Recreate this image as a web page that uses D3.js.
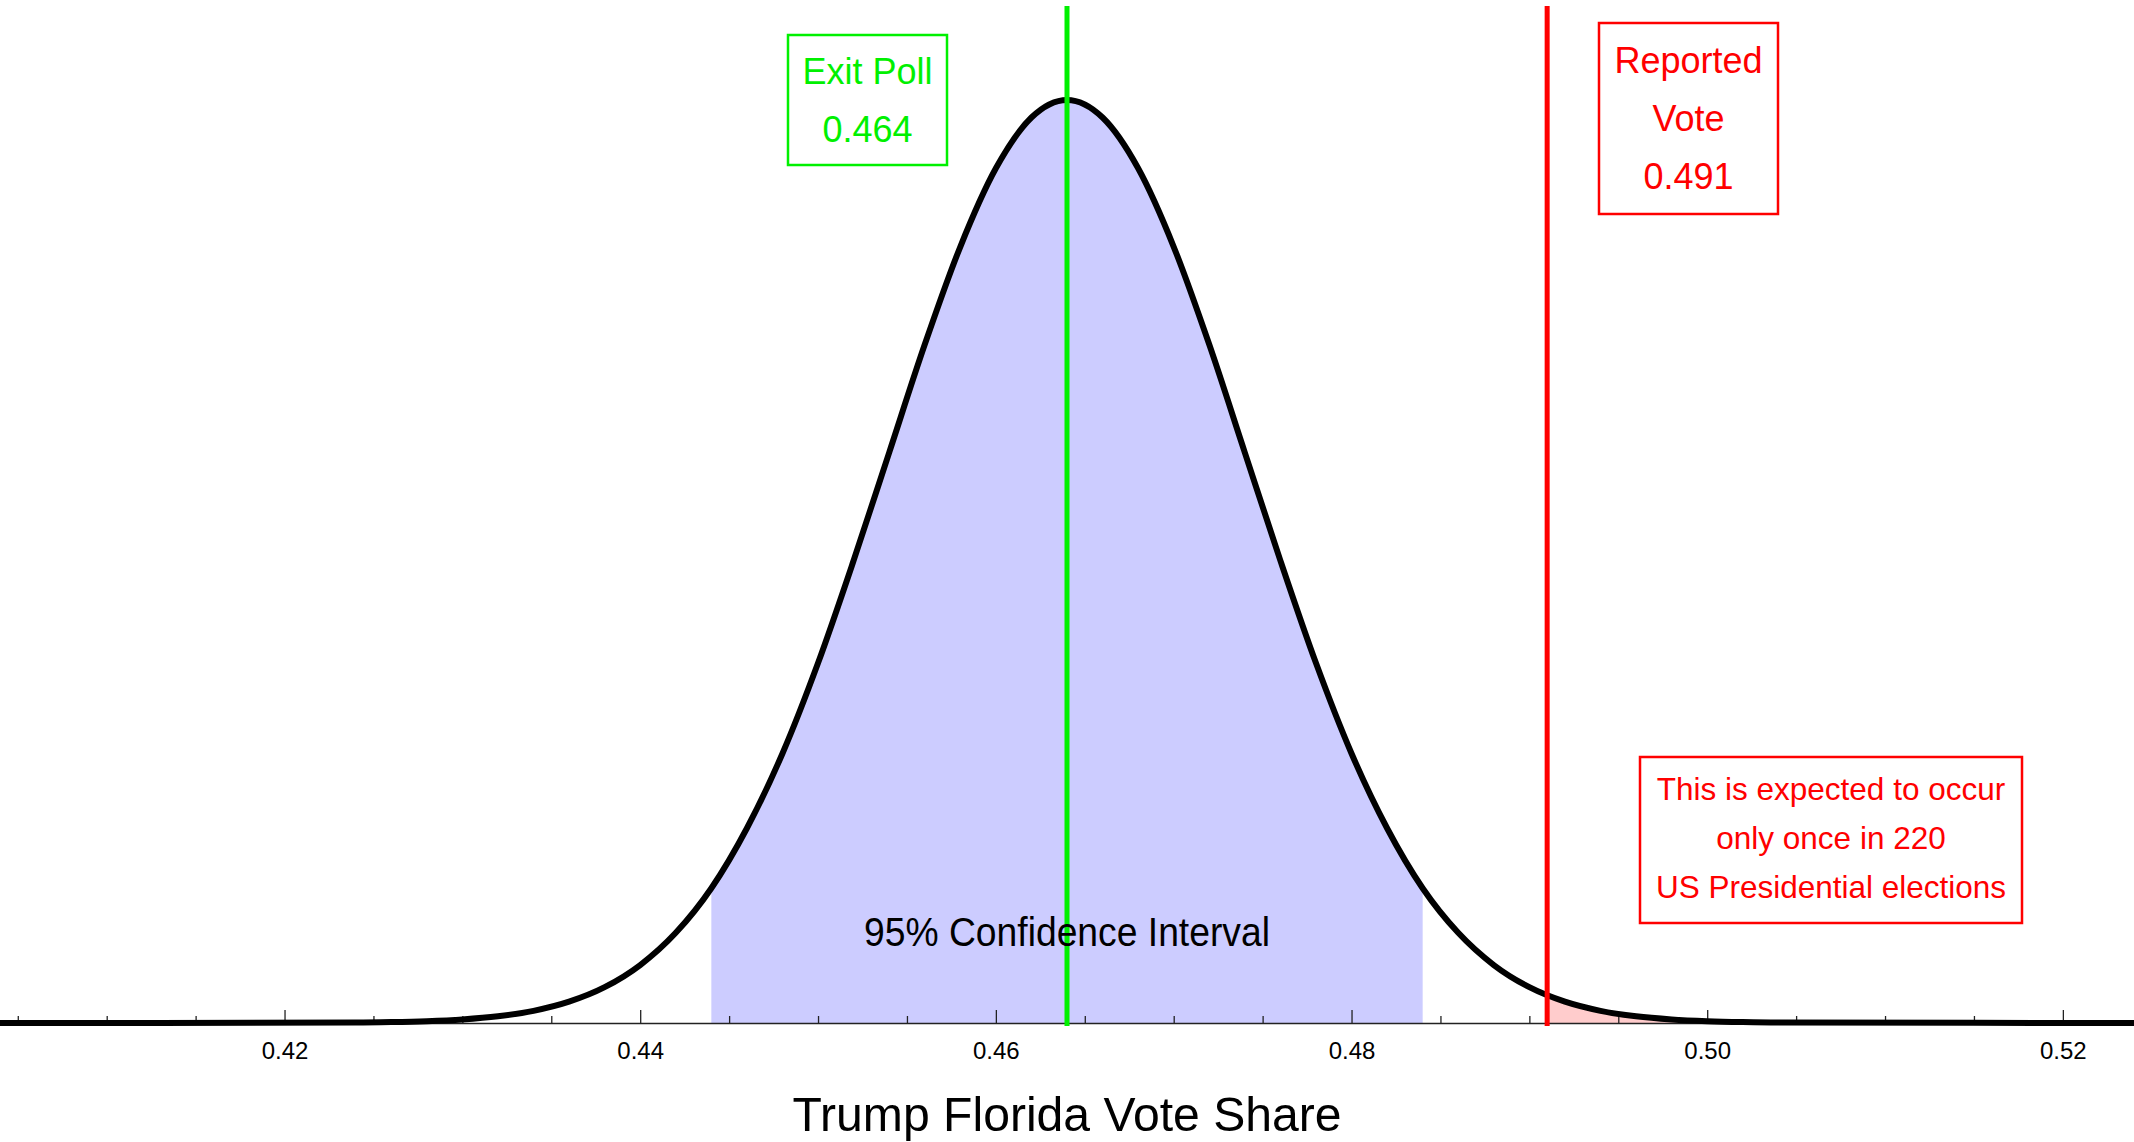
<!DOCTYPE html>
<html>
<head>
<meta charset="utf-8">
<script src="https://cdn.jsdelivr.net/npm/d3@7"></script>
<style>
  body { margin: 0; background: #fff; }
  svg text { font-family: "Liberation Sans", Arial, Helvetica, sans-serif; }
</style>
</head>
<body>
<svg id="viz" width="2134" height="1142"></svg>
<script>
// vote share values along the curve
var shareGrid = [0.404,
  0.424, 0.426, 0.428, 0.430, 0.432, 0.434, 0.436, 0.438, 0.440, 0.442,
  0.444, 0.446, 0.448, 0.450, 0.452, 0.454, 0.456, 0.458, 0.460, 0.462,
  0.464, 0.466, 0.468, 0.470, 0.472, 0.474, 0.476, 0.478, 0.480, 0.482,
  0.484, 0.486, 0.488, 0.490, 0.492, 0.494, 0.496, 0.498, 0.500, 0.502,
  0.504, 0.524];
// curve height relative to the peak
var relDensity = [0,
  0.0005, 0.001, 0.002, 0.0039, 0.0073, 0.0132, 0.0231, 0.0388, 0.0628, 0.0977,
  0.146, 0.211, 0.292, 0.390, 0.501, 0.618, 0.735, 0.841, 0.926, 0.981,
  1.0, 0.981, 0.926, 0.841, 0.735, 0.618, 0.501, 0.390, 0.292, 0.211,
  0.146, 0.0977, 0.0628, 0.0388, 0.0231, 0.0132, 0.0073, 0.0039, 0.002, 0.001,
  0.0005, 0];

var exitPoll = 0.464;
var reportedVote = 0.491;
var confInterval = [0.444, 0.484];
var majorTicks = [0.42, 0.44, 0.46, 0.48, 0.50, 0.52];
var minorTicks = [0.405, 0.41, 0.415, 0.425, 0.43, 0.435, 0.445, 0.45, 0.455,
  0.465, 0.47, 0.475, 0.485, 0.49, 0.495, 0.505, 0.51, 0.515];
var exitLabel = ["Exit Poll", "0.464"];
var reportedLabel = ["Reported", "Vote", "0.491"];
var rareLabel = ["This is expected to occur", "only once in 220", "US Presidential elections"];

var curve = shareGrid.map((s, i) => ({share: s, dens: relDensity[i]}));

var svg = d3.select("#viz");
var W = 2134, axisY = 1023;

var x = d3.scaleLinear().domain([0.404, 0.524]).range([0, W]);
var y = d3.scaleLinear().domain([0, 1]).range([axisY, 100]);

var area = d3.area()
    .x(d => x(d.share))
    .y0(axisY)
    .y1(d => y(d.dens))
    .curve(d3.curveMonotoneX);

var line = d3.line()
    .x(d => x(d.share))
    .y(d => y(d.dens))
    .curve(d3.curveMonotoneX);

// clip regions for shading
var defs = svg.append("defs");
defs.append("clipPath").attr("id", "ciClip")
  .append("rect")
    .attr("x", x(confInterval[0]))
    .attr("y", 0)
    .attr("width", x(confInterval[1]) - x(confInterval[0]))
    .attr("height", axisY);
defs.append("clipPath").attr("id", "tailClip")
  .append("rect")
    .attr("x", x(reportedVote))
    .attr("y", 0)
    .attr("width", W - x(reportedVote))
    .attr("height", axisY);

svg.append("path").datum(curve)
    .attr("d", area)
    .attr("fill", "#ccccff")
    .attr("clip-path", "url(#ciClip)");
svg.append("path").datum(curve)
    .attr("d", area)
    .attr("fill", "#ffcccc")
    .attr("clip-path", "url(#tailClip)");

// axis with upward ticks
var gAxis = svg.append("g")
    .attr("transform", "translate(0," + axisY + ")")
    .call(d3.axisBottom(x)
        .tickValues(majorTicks)
        .tickFormat(d3.format(".2f"))
        .tickSizeInner(-13)
        .tickSizeOuter(0)
        .tickPadding(19));
gAxis.select(".domain").attr("stroke", "#222").attr("stroke-width", 1.5);
gAxis.selectAll(".tick line").attr("stroke", "#222").attr("stroke-width", 1.3);
gAxis.selectAll(".tick text")
    .attr("font-size", 24)
    .attr("fill", "#000")
    .style("font-family", "'Liberation Sans', Arial, sans-serif");

var gMinor = svg.append("g")
    .attr("transform", "translate(0," + axisY + ")")
    .call(d3.axisBottom(x)
        .tickValues(minorTicks)
        .tickFormat("")
        .tickSizeInner(-7)
        .tickSizeOuter(0));
gMinor.select(".domain").remove();
gMinor.selectAll(".tick line").attr("stroke", "#222").attr("stroke-width", 1.3);

// the curve
svg.append("path").datum(curve)
    .attr("d", line)
    .attr("fill", "none")
    .attr("stroke", "#000")
    .attr("stroke-width", 6);

// markers
svg.append("line")
    .attr("x1", x(exitPoll)).attr("x2", x(exitPoll))
    .attr("y1", 6).attr("y2", axisY + 3)
    .attr("stroke", "#00f000").attr("stroke-width", 5);
svg.append("line")
    .attr("x1", x(reportedVote)).attr("x2", x(reportedVote))
    .attr("y1", 6).attr("y2", axisY + 3)
    .attr("stroke", "#ff0000").attr("stroke-width", 5);

// labelled boxes
function labelBox(lines, bx, by, bw, bh, color, size, firstBase, step) {
    svg.append("rect")
        .attr("x", bx).attr("y", by)
        .attr("width", bw).attr("height", bh)
        .attr("fill", "none")
        .attr("stroke", color)
        .attr("stroke-width", 2.5);
    svg.selectAll(null).data(lines).enter()
      .append("text")
        .attr("x", bx + bw / 2)
        .attr("y", (d, i) => firstBase + i * step)
        .attr("text-anchor", "middle")
        .attr("font-size", size)
        .attr("fill", color)
        .text(d => d);
}

labelBox(exitLabel, 788, 35, 159, 130, "#00f000", 36, 84, 58);
labelBox(reportedLabel, 1599, 23, 179, 191, "#ff0000", 36, 73, 58);
labelBox(rareLabel, 1640, 757, 382, 166, "#ff0000", 31.5, 800, 49);

svg.append("text")
    .attr("x", x(exitPoll))
    .attr("y", 946)
    .attr("text-anchor", "middle")
    .attr("font-size", 40)
    .attr("textLength", 406)
    .attr("lengthAdjust", "spacingAndGlyphs")
    .text("95% Confidence Interval");

svg.append("text")
    .attr("x", x(exitPoll))
    .attr("y", 1131)
    .attr("text-anchor", "middle")
    .attr("font-size", 48)
    .attr("textLength", 549)
    .attr("lengthAdjust", "spacingAndGlyphs")
    .text("Trump Florida Vote Share");
</script>
</body>
</html>
